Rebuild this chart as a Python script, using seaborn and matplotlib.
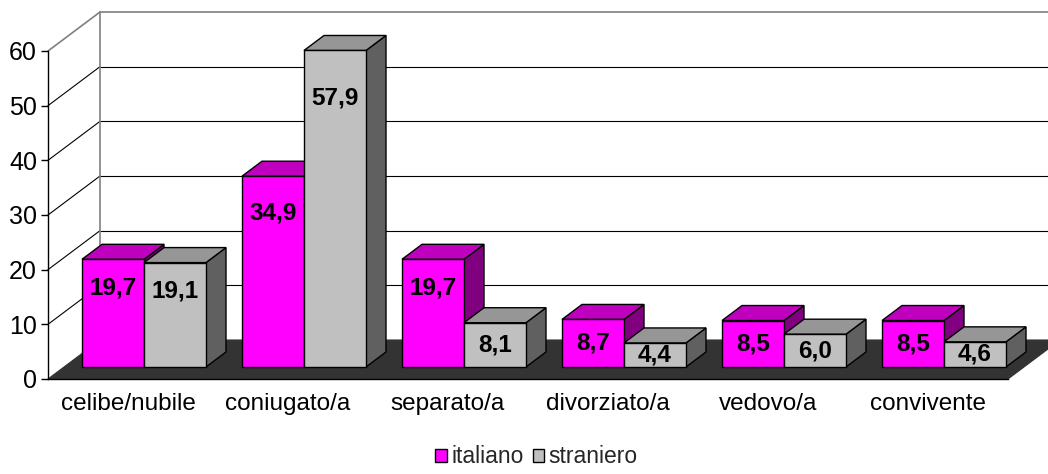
import numpy as np
import pandas as pd
import matplotlib
matplotlib.use("Agg")
import matplotlib.pyplot as plt
import seaborn as sns
from matplotlib.patches import Polygon, Patch
from matplotlib.lines import Line2D

# ---------------- data ----------------
categories = ["celibe/nubile", "coniugato/a", "separato/a", "divorziato/a", "vedovo/a", "convivente"]
italiano = [19.7, 34.9, 19.7, 8.7, 8.5, 8.5]
straniero = [19.1, 57.9, 8.1, 4.4, 6.0, 4.6]
series = ["italiano", "straniero"]
y_ticks = [0, 10, 20, 30, 40, 50, 60]

df = pd.DataFrame({
    "stato": categories * 2,
    "valore": italiano + straniero,
    "gruppo": [series[0]] * len(categories) + [series[1]] * len(categories),
})

# ---------------- style ----------------
front_col = {"italiano": "#FF00FF", "straniero": "#C0C0C0"}
top_col = {"italiano": "#BF00BF", "straniero": "#969696"}
side_col = {"italiano": "#800080", "straniero": "#606060"}

sns.set_theme(style="white")
plt.rcParams["font.family"] = ["Liberation Sans", "DejaVu Sans"]

W, H = 1048, 474
fig = plt.figure(figsize=(W / 100, H / 100), dpi=100)
fig.patch.set_facecolor("white")
x_left, x_right = 48, 1008
y_zero, y_top = 379, 51
ax = fig.add_axes([x_left / W, (H - y_zero) / H, (x_right - x_left) / W, (y_zero - y_top) / H])
ax.set_facecolor("none")

sns.barplot(data=df, x="stato", y="valore", hue="gruppo", hue_order=series,
            order=categories, palette=front_col, saturation=1, width=0.775,
            edgecolor="black", linewidth=1.0, ax=ax, legend=False, errorbar=None)

ncat = len(categories)
ax.set_xlim(-0.5, ncat - 0.5)
ax.set_ylim(0, 60)

px_x = ncat / (x_right - x_left)   # data units per pixel
px_y = 60 / (y_zero - y_top)
fdx, fdy = 16 * px_x, 12 * px_y     # bar front face depth offset
bdx, bdy = 36 * px_x, 27 * px_y     # bar back face depth offset
wdx, wdy = 52 * px_x, 39 * px_y     # back wall offset


def F(x, y):
    return (x + fdx, y + fdy)


def B(x, y):
    return (x + bdx, y + bdy)


def Wl(x, y):
    return (x + wdx, y + wdy)


xa, xb = -0.5, ncat - 0.5
# floor
ax.add_patch(Polygon([(xa, 0), (xb, 0), Wl(xb, 0), Wl(xa, 0)], closed=True,
                     facecolor="#333333", edgecolor="#333333", lw=0.8,
                     zorder=1, clip_on=False))
# walls / gridlines
for t in y_ticks:
    if t == 0:
        continue
    c = "#808080" if t == y_ticks[-1] else "black"
    lw = 1.2 if t == y_ticks[-1] else 0.8
    ax.add_line(Line2D([Wl(xa, t)[0], Wl(xb + 0.3, t)[0]], [Wl(xa, t)[1], Wl(xb, t)[1]],
                       color=c, lw=lw, zorder=0.5, clip_on=False))
    ax.add_line(Line2D([xa, Wl(xa, t)[0]], [t, Wl(xa, t)[1]],
                       color=c, lw=lw, zorder=0.5, clip_on=False))
ax.add_line(Line2D([Wl(xa, 0)[0], Wl(xa, 60)[0]], [Wl(xa, 0)[1], Wl(xa, 60)[1]],
                   color="#808080", lw=1.2, zorder=0.5, clip_on=False))

# 3D bars
bars = sorted([p for p in ax.patches if hasattr(p, "get_width") and p.get_height() > 0 and p.get_width() < 1],
              key=lambda p: p.get_x())
for k, p in enumerate(bars):
    x0 = p.get_x()
    w = p.get_width()
    x1 = x0 + w
    h = p.get_height()
    s = series[0] if k % 2 == 0 else series[1]
    z = 10 + 3 * k
    ax.add_patch(Polygon([F(x1, 0), F(x1, h), B(x1, h), B(x1, 0)], closed=True,
                         facecolor=side_col[s], edgecolor="black", lw=1.0,
                         zorder=z, clip_on=False))
    ax.add_patch(Polygon([F(x0, h), F(x1, h), B(x1, h), B(x0, h)], closed=True,
                         facecolor=top_col[s], edgecolor="black", lw=1.0,
                         zorder=z + 0.5, clip_on=False))
    p.set_x(x0 + fdx)
    p.set_y(fdy)
    p.set_zorder(z + 1)
    p.set_clip_on(False)
    off = min(h / 2, 3.5 + 0.09 * h)
    ax.text(x0 + w / 2 + fdx, h - off + fdy, f"{h:.1f}".replace(".", ","),
            ha="center", va="center", fontsize=17.5, fontweight="bold",
            color="black", zorder=100, clip_on=False)

# axes styling
for sp in ["top", "right"]:
    ax.spines[sp].set_visible(False)
for sp in ["left", "bottom"]:
    ax.spines[sp].set_color("black")
    ax.spines[sp].set_linewidth(1.0)
    ax.spines[sp].set_zorder(5)
ax.set_yticks(y_ticks)
ax.set_yticklabels([str(t) for t in y_ticks])
ax.set_xticks(range(ncat))
ax.set_xticklabels(categories)
ax.set_xticks(np.arange(ncat + 1) - 0.5, minor=True)
ax.tick_params(axis="x", which="major", length=0, pad=10, labelsize=17.5, colors="black")
ax.tick_params(axis="x", which="minor", length=5, width=1, color="black", direction="out")
ax.tick_params(axis="y", which="major", length=5, width=1, color="black", direction="out",
               pad=3, labelsize=18, labelcolor="black", left=True)
ax.set_xlabel("")
ax.set_ylabel("")
ax.grid(False)

handles = [Patch(facecolor=front_col[s], edgecolor="black", lw=1.0, label=s) for s in series]
fig.legend(handles=handles, loc="lower center", bbox_to_anchor=(0.512, -0.012), ncol=2,
           frameon=False, fontsize=16.5, handlelength=0.5, handleheight=0.5,
           handletextpad=0.2, columnspacing=0.4, borderpad=0)

fig.savefig("out.png", dpi=100)
